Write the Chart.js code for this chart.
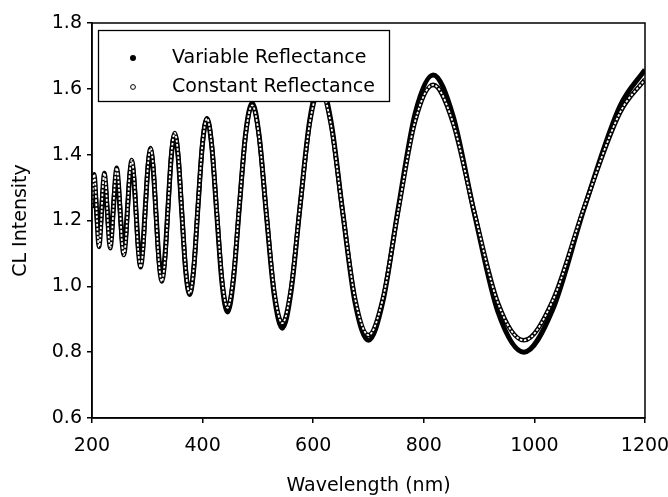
<!DOCTYPE html>
<html>
<head>
<meta charset="utf-8">
<script src="https://cdn.jsdelivr.net/npm/chart.js@4.4.1/dist/chart.umd.min.js"></script>
<style>
  html, body { margin: 0; padding: 0; background: #fff; }
  #wrap { width: 668px; height: 497px; }
</style>
</head>
<body>
<div id="wrap"><canvas id="clChart"></canvas></div>
<script>
// values (wavelength in nm)
const wavelengths = [
  200, 201.8, 203.9, 206.0, 208.2, 210.5, 212.7, 215.1, 217.5, 219.9,
  222.4, 225.0, 227.6, 230.3, 233.0, 235.8, 238.7, 241.7, 244.7, 247.8,
  251.0, 254.2, 257.6, 261.0, 264.5, 268.2, 271.9, 275.7, 279.7, 283.7,
  287.9, 292.2, 296.6, 301.2, 305.9, 310.8, 315.8, 321.0, 326.3, 331.9,
  337.6, 343.5, 349.7, 356.0, 362.6, 369.5, 376.6, 384.0, 391.7, 399.7,
  408.0, 416.7, 425.8, 435.2, 445.1, 455.5, 466.4, 477.8, 489.7, 502.3,
  515.5, 529.5, 544.2, 559.8, 576.3, 593.8, 612.4, 632.2, 653.3, 675.8,
  700.0, 726.0, 754.0, 784.2, 817.0, 852.6, 891.5, 934.0, 980.9, 1032.7,
  1090.2, 1154.6, 1200
];
const variableRefl = [
  1.238, 1.280, 1.300, 1.280, 1.230, 1.181, 1.160, 1.182, 1.235, 1.288,
  1.310, 1.287, 1.230, 1.173, 1.150, 1.176, 1.240, 1.304, 1.330, 1.299,
  1.225, 1.151, 1.120, 1.157, 1.245, 1.333, 1.370, 1.328, 1.225, 1.123,
  1.080, 1.128, 1.245, 1.362, 1.410, 1.354, 1.220, 1.086, 1.030, 1.093,
  1.245, 1.397, 1.460, 1.389, 1.218, 1.046, 0.975, 1.053, 1.243, 1.432,
  1.510, 1.424, 1.216, 1.008, 0.922, 1.015, 1.240, 1.464, 1.557, 1.457,
  1.215, 0.973, 0.873, 0.982, 1.244, 1.506, 1.615, 1.501, 1.226, 0.950,
  0.836, 0.954, 1.239, 1.524, 1.642, 1.519, 1.221, 0.923, 0.800, 0.928,
  1.238, 1.547, 1.658
];
const constantRefl = [
  1.242, 1.308, 1.340, 1.308, 1.230, 1.152, 1.120, 1.153, 1.232, 1.311,
  1.344, 1.311, 1.230, 1.149, 1.116, 1.152, 1.238, 1.324, 1.360, 1.321,
  1.228, 1.134, 1.095, 1.137, 1.240, 1.342, 1.384, 1.336, 1.221, 1.106,
  1.058, 1.111, 1.239, 1.367, 1.420, 1.361, 1.218, 1.074, 1.015, 1.081,
  1.241, 1.400, 1.466, 1.395, 1.222, 1.050, 0.978, 1.056, 1.244, 1.432,
  1.510, 1.426, 1.223, 1.019, 0.935, 1.025, 1.243, 1.460, 1.550, 1.453,
  1.219, 0.985, 0.888, 0.992, 1.244, 1.496, 1.600, 1.491, 1.226, 0.962,
  0.852, 0.963, 1.232, 1.501, 1.612, 1.498, 1.224, 0.950, 0.836, 0.955,
  1.241, 1.527, 1.629
];
const seriesNames = ['Variable Reflectance', 'Constant Reflectance'];
const xRange = [200, 1200];
const yRange = [0.6, 1.8];

const FONT = {family: '"DejaVu Sans", sans-serif', size: 19};
const INK = '#000';

function toPoints(ys){
    return wavelengths.map((w, i) => ({x: w, y: ys[i]}));
}

// box round the plot plus the legend in the upper left corner
const plotFrame = {
    id: 'plotFrame',
    afterDatasetsDraw(chart){
        const {ctx, chartArea} = chart;
        ctx.save();
        ctx.strokeStyle = INK;
        ctx.lineWidth = 1.5;
        ctx.strokeRect(chartArea.left, chartArea.top,
            chartArea.right - chartArea.left, chartArea.bottom - chartArea.top);

        // legend
        ctx.fillStyle = '#fff';
        ctx.fillRect(98, 30, 292, 72);
        ctx.lineWidth = 1.3;
        ctx.strokeRect(98.5, 30.5, 291, 71);

        ctx.beginPath();
        ctx.fillStyle = INK;
        ctx.arc(133, 58, 3, 0, Math.PI * 2);
        ctx.fill();

        ctx.beginPath();
        ctx.lineWidth = 1;
        ctx.fillStyle = '#fff';
        ctx.arc(133, 87, 2.4, 0, Math.PI * 2);
        ctx.fill();
        ctx.stroke();

        ctx.fillStyle = INK;
        ctx.font = FONT.size + 'px ' + FONT.family;
        ctx.textAlign = 'left';
        ctx.textBaseline = 'middle';
        ctx.fillText(seriesNames[0], 172, 58);
        ctx.fillText(seriesNames[1], 172, 87);
        ctx.restore();
    }
};

new Chart(document.getElementById('clChart'), {
    type: 'line',
    data: {
        datasets: [
            {
                label: seriesNames[0],
                data: toPoints(variableRefl),
                borderColor: INK,
                borderWidth: 5,
                pointRadius: 0,
                cubicInterpolationMode: 'monotone',
                order: 3
            },
            {
                label: seriesNames[1],
                data: toPoints(constantRefl),
                borderColor: INK,
                borderWidth: 4.6,
                pointRadius: 0,
                cubicInterpolationMode: 'monotone',
                order: 2
            },
            {
                // white centres of the open circles
                label: '',
                data: toPoints(constantRefl),
                borderColor: '#fff',
                borderWidth: 1.8,
                borderDash: [2.5, 1.6],
                pointRadius: 0,
                cubicInterpolationMode: 'monotone',
                order: 1
            }
        ]
    },
    options: {
        responsive: true,
        maintainAspectRatio: false,
        animation: false,
        devicePixelRatio: 1,
        layout: {padding: {left: 0, top: 23, right: 0, bottom: 0}},
        plugins: {
            legend: {display: false},
            tooltip: {enabled: false}
        },
        scales: {
            x: {
                type: 'linear',
                min: xRange[0],
                max: xRange[1],
                afterFit(scale){
                    scale.height = 79;
                    scale.paddingLeft = 0;
                    scale.paddingRight = 23;
                },
                ticks: {stepSize: 200, color: INK, font: FONT, padding: 12, maxRotation: 0,
                    callback: (v) => String(v)},
                grid: {drawOnChartArea: false, drawTicks: true, tickLength: 5, color: INK, lineWidth: 1.5},
                border: {display: true, color: INK, width: 1.5},
                title: {display: true, text: 'Wavelength (nm)', color: INK, font: FONT, padding: {top: 0, bottom: 0}}
            },
            y: {
                type: 'linear',
                min: yRange[0],
                max: yRange[1],
                afterFit(scale){ scale.width = 92; },
                ticks: {stepSize: 0.2, color: INK, font: FONT, padding: 5,
                    callback: (v) => v.toFixed(1)},
                grid: {drawOnChartArea: false, drawTicks: true, tickLength: 5, color: INK, lineWidth: 1.5},
                border: {display: true, color: INK, width: 1.5},
                title: {display: true, text: 'CL Intensity', color: INK, font: FONT, padding: {top: 10, bottom: 0}}
            }
        }
    },
    plugins: [plotFrame]
});
</script>
</body>
</html>
